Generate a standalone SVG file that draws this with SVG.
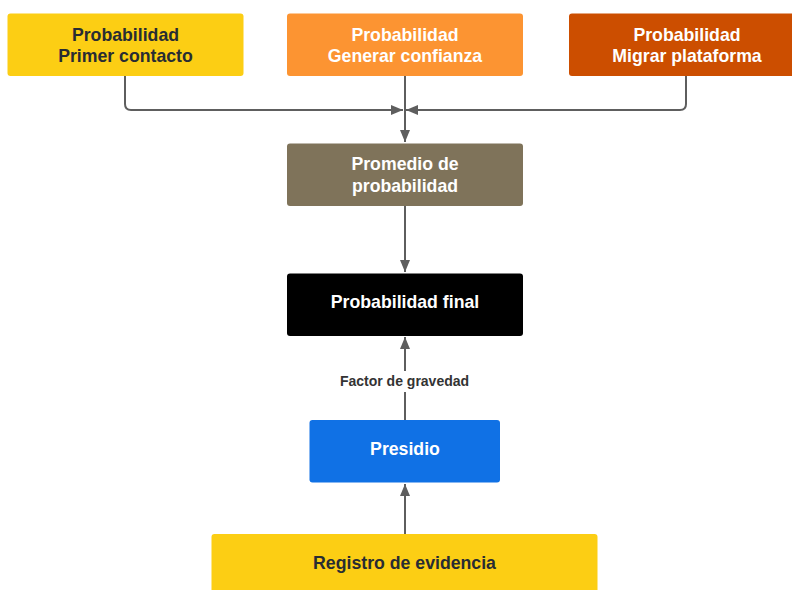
<svg xmlns="http://www.w3.org/2000/svg" width="792" height="590" viewBox="0 0 792 590">
<style>
.t{font-family:"Liberation Sans",Arial,sans-serif;font-weight:bold;font-size:17.7px;text-anchor:middle}
.d{fill:#282c33}
.w{fill:#ffffff}
.c{fill:none;stroke:#5e5e5e;stroke-width:2}
.lbl{font-family:"Liberation Sans",Arial,sans-serif;font-weight:bold;font-size:14px;text-anchor:middle;fill:#333333}
</style>
<defs>
<marker id="ah" viewBox="0 0 12 10" refX="12" refY="5" markerWidth="12" markerHeight="10" markerUnits="userSpaceOnUse" orient="auto">
<path d="M0,0 L12,5 L0,10 Z" fill="#5e5e5e"/>
</marker>
</defs>
<rect width="792" height="590" fill="#ffffff"/>
<g id="connectors">
<path class="c" d="M125,76 V104 Q125,110 131,110 H403" marker-end="url(#ah)"/>
<path class="c" d="M686,76 V104 Q686,110 680,110 H406" marker-end="url(#ah)"/>
<path class="c" d="M405,76 V142" marker-end="url(#ah)"/>
<path class="c" d="M405,206 V272" marker-end="url(#ah)"/>
<path class="c" d="M405,420 V392 M405,371 V337" marker-end="url(#ah)"/>
<text class="lbl" x="404.5" y="385.5">Factor de gravedad</text>
<path class="c" d="M405,534 V484" marker-end="url(#ah)"/>
</g>
<g id="n1">
<rect x="7.5" y="13.5" width="236" height="62.5" rx="3" fill="#fcce14"/>
<text class="t d" x="125.5" y="40.5">Probabilidad</text>
<text class="t d" x="125.5" y="62">Primer contacto</text>
</g>
<g id="n2">
<rect x="287" y="13.5" width="236" height="62.5" rx="3" fill="#fc9432"/>
<text class="t w" x="405" y="40.5">Probabilidad</text>
<text class="t w" x="405" y="62">Generar confianza</text>
</g>
<g id="n3">
<rect x="569" y="13.5" width="236" height="62.5" rx="3" fill="#cc4e00"/>
<text class="t w" x="687" y="40.5">Probabilidad</text>
<text class="t w" x="687" y="62">Migrar plataforma</text>
</g>
<g id="n4">
<rect x="287" y="143.5" width="236" height="62.5" rx="3" fill="#7f735a"/>
<text class="t w" x="405" y="170">Promedio de</text>
<text class="t w" x="405" y="192">probabilidad</text>
</g>
<g id="n5">
<rect x="287" y="273.5" width="236" height="62.5" rx="3" fill="#000000"/>
<text class="t w" x="405" y="307.5">Probabilidad final</text>
</g>
<g id="n6">
<rect x="309.5" y="420" width="190.5" height="62.5" rx="3" fill="#1071e5"/>
<text class="t w" x="405" y="455">Presidio</text>
</g>
<g id="n7">
<rect x="211.5" y="534" width="386" height="70" rx="3" fill="#fcce14"/>
<text class="t d" x="404.5" y="568.5">Registro de evidencia</text>
</g>
</svg>
